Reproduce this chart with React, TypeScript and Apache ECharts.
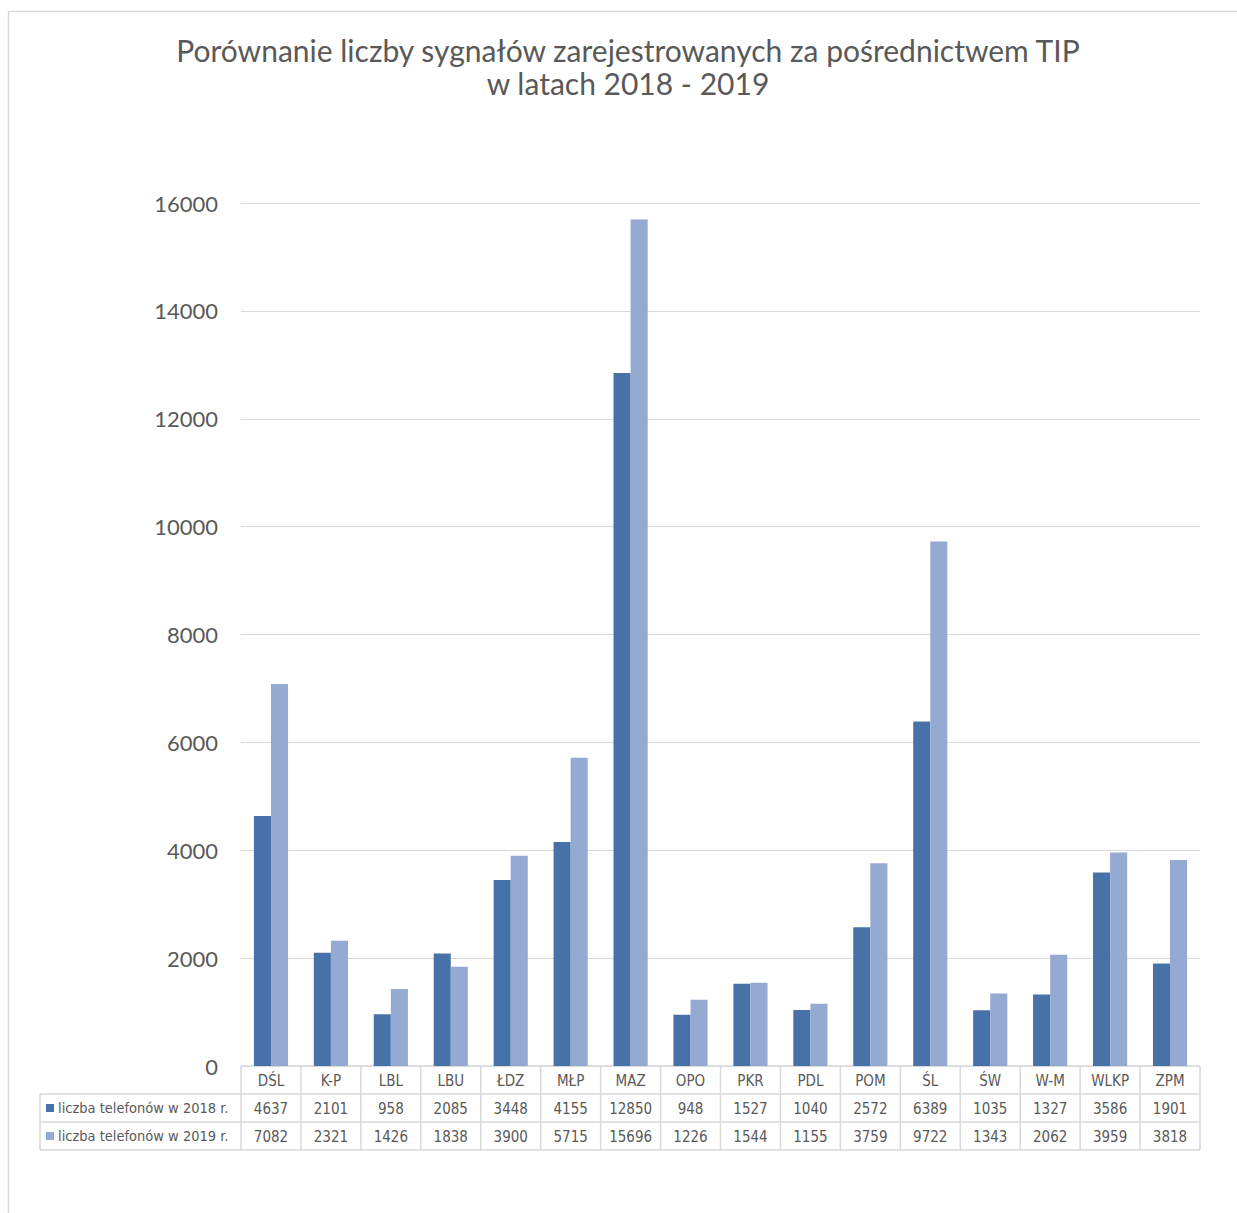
import React, { useEffect, useRef } from "react";
import * as echarts from "echarts";

const categories = ["DŚL", "K-P", "LBL", "LBU", "ŁDZ", "MŁP", "MAZ", "OPO", "PKR", "PDL", "POM", "ŚL", "ŚW", "W-M", "WLKP", "ZPM"];
const values2018 = [4637, 2101, 958, 2085, 3448, 4155, 12850, 948, 1527, 1040, 2572, 6389, 1035, 1327, 3586, 1901];
const values2019 = [7082, 2321, 1426, 1838, 3900, 5715, 15696, 1226, 1544, 1155, 3759, 9722, 1343, 2062, 3959, 3818];
const seriesNames = ["liczba telefonów w 2018 r.", "liczba telefonów w 2019 r."];
const titleLines = ["Porównanie liczby sygnałów zarejestrowanych za pośrednictwem TIP", "w latach 2018 - 2019"];
const yMin = 0;
const yMax = 16000;
const yInterval = 2000;

const W = 1237;
const H = 1213;
const GRID_LEFT = 241;
const GRID_RIGHT = 1200;
const GRID_TOP = 203;
const GRID_BOTTOM = 1066;
const ROW_H = 28;
const TABLE_LEFT = 40;
const TITLE_CX = 628;
const TITLE_Y = 50;
const TITLE_LH = 33;
const COL1 = "#4672A8";
const COL2 = "#95AAD2";
const TEXT = "#595959";
const LINE = "#d9d9d9";
const NARROW = "'Liberation Sans Narrow', 'DejaVu Sans Condensed', sans-serif";

export default function App() {
  const ref = useRef<HTMLDivElement>(null);
  useEffect(() => {
    if (!ref.current) return;
    const chart = echarts.init(ref.current, null, { renderer: "svg", width: W, height: H });
    const rowAxis = (vals: number[], offset: number) => ({
      type: "category",
      data: categories,
      position: "bottom",
      offset,
      axisLine: { show: false },
      axisTick: { show: false },
      axisLabel: {
        interval: 0,
        margin: 7,
        color: TEXT,
        fontSize: 15,
        fontFamily: NARROW,
        formatter: (_v: string, i: number) => String(vals[i]),
      },
    });
    chart.setOption({
      animation: false,
      backgroundColor: "#ffffff",
      grid: { left: GRID_LEFT, right: W - GRID_RIGHT, top: GRID_TOP, bottom: H - GRID_BOTTOM, containLabel: false },
      xAxis: [
        {
          type: "category",
          data: categories,
          axisLine: { show: false },
          axisTick: { show: false },
          axisLabel: { interval: 0, margin: 7, color: TEXT, fontSize: 15, fontFamily: NARROW },
        },
        rowAxis(values2018, ROW_H),
        rowAxis(values2019, ROW_H * 2),
      ],
      yAxis: {
        type: "value",
        min: yMin,
        max: yMax,
        interval: yInterval,
        axisLine: { show: false },
        axisTick: { show: false },
        axisLabel: { margin: 23, color: TEXT, fontSize: 22, fontFamily: "Lato, sans-serif", formatter: (v: number) => String(v) },
        splitLine: { lineStyle: { color: LINE, width: 1 } },
      },
      series: [
        { name: seriesNames[0], type: "bar", data: values2018, itemStyle: { color: COL1 }, barGap: "0%", barCategoryGap: "43%" },
        { name: seriesNames[1], type: "bar", data: values2019, itemStyle: { color: COL2 }, barGap: "0%", barCategoryGap: "43%" },
      ],
    });

    const half = (chart.convertToPixel({ xAxisIndex: 0 }, 1) as number) - (chart.convertToPixel({ xAxisIndex: 0 }, 0) as number);
    const graphics: any[] = [];
    const ln = (x1: number, y1: number, x2: number, y2: number) =>
      graphics.push({ type: "line", shape: { x1, y1, x2, y2 }, style: { stroke: LINE, lineWidth: 1.5 }, silent: true });
    // outer chart border
    graphics.push({ type: "rect", shape: { x: 8.5, y: 11.5, width: W, height: H }, style: { fill: "none", stroke: LINE, lineWidth: 1.5 } });
    // title lines
    titleLines.forEach((t, i) => {
      graphics.push({
        type: "text",
        x: TITLE_CX,
        y: TITLE_Y + i * TITLE_LH,
        style: { text: t, fill: TEXT, fontSize: 30, fontFamily: "Lato, sans-serif", align: "center", verticalAlign: "middle" },
      });
    });
    // table verticals
    for (let i = 0; i <= categories.length; i++) {
      const cx = (chart.convertToPixel({ xAxisIndex: 0 }, Math.min(i, categories.length - 1)) as number);
      const x = i < categories.length ? cx - half / 2 : cx + half / 2;
      ln(x, GRID_BOTTOM, x, GRID_BOTTOM + ROW_H * 3);
    }
    ln(TABLE_LEFT, GRID_BOTTOM + ROW_H, TABLE_LEFT, GRID_BOTTOM + ROW_H * 3);
    ln(GRID_LEFT, GRID_BOTTOM, GRID_RIGHT, GRID_BOTTOM);
    for (let r = 1; r <= 3; r++) ln(TABLE_LEFT, GRID_BOTTOM + ROW_H * r, GRID_RIGHT, GRID_BOTTOM + ROW_H * r);
    // legend keys and names
    [COL1, COL2].forEach((c, k) => {
      const cy = GRID_BOTTOM + ROW_H * (k + 1) + ROW_H / 2;
      graphics.push({ type: "rect", shape: { x: 46, y: cy - 4, width: 8, height: 8 }, style: { fill: c } });
      graphics.push({
        type: "text",
        x: 58,
        y: cy,
        style: { text: seriesNames[k], fill: TEXT, fontSize: 14.5, fontFamily: NARROW, verticalAlign: "middle", align: "left" },
      });
    });
    chart.setOption({ graphic: graphics });
    return () => chart.dispose();
  }, []);
  return <div ref={ref} style={{ position: "fixed", left: 0, top: 0, width: W, height: H }} />;
}
